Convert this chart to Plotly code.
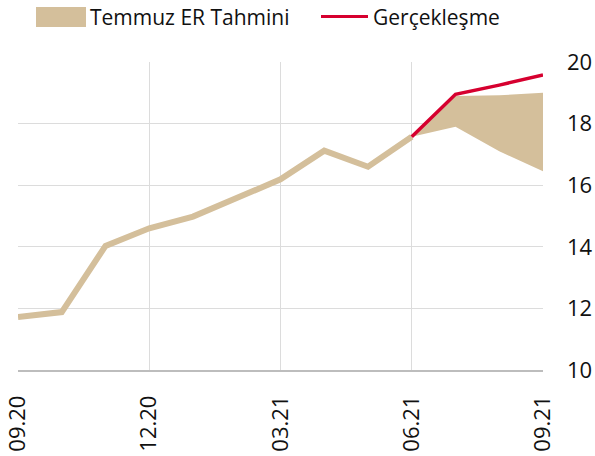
import plotly.graph_objects as go

# Palette
TAN = "#d4bf9b"
RED = "#d6002f"
GRID = "#dcdcdc"

months = ["09.20", "10.20", "11.20", "12.20", "01.21", "02.21", "03.21",
          "04.21", "05.21", "06.21", "07.21", "08.21", "09.21"]
tick_months = ["09.20", "12.20", "03.21", "06.21", "09.21"]

# history (Temmuz ER Tahmini, realised part)
hist_months = months[:10]
hist_vals = [11.72, 11.88, 14.03, 14.6, 14.98, 15.57, 16.19, 17.12, 16.6, 17.57]

# forecast fan
fan_months = months[9:]
fan_upper = [17.57, 18.9, 18.92, 19.0]
fan_lower = [17.57, 17.9, 17.1, 16.45]

# realised (Gerçekleşme)
real_months = months[9:]
real_vals = [17.57, 18.95, 19.25, 19.58]

fig = go.Figure()

fig.add_trace(go.Scatter(
    x=fan_months, y=fan_upper, mode="lines",
    line=dict(width=0, color=TAN), showlegend=False, hoverinfo="skip",
))
fig.add_trace(go.Scatter(
    x=fan_months, y=fan_lower, mode="lines",
    line=dict(width=0, color=TAN), fill="tonexty", fillcolor=TAN,
    showlegend=False, name="Temmuz ER Tahmini",
))
fig.add_trace(go.Scatter(
    x=hist_months, y=hist_vals, mode="lines",
    line=dict(width=6, color=TAN), showlegend=False, name="Temmuz ER Tahmini",
))
fig.add_trace(go.Scatter(
    x=real_months, y=real_vals, mode="lines",
    line=dict(width=3.5, color=RED), showlegend=False, name="Gerçekleşme",
))

# manual legend (paper coords: plot spans x 18..543, y 62..370 px)
def px_x(p):
    return (p - 18) / 525

def px_y(p):
    return (370 - p) / 308

fig.add_shape(type="rect", xref="paper", yref="paper",
              x0=px_x(36), x1=px_x(86), y0=px_y(27), y1=px_y(7),
              fillcolor=TAN, line=dict(width=0))
fig.add_shape(type="line", xref="paper", yref="paper",
              x0=px_x(321), x1=px_x(368), y0=px_y(16.5), y1=px_y(16.5),
              line=dict(color=RED, width=3))
fig.add_annotation(text="Temmuz ER Tahmini", xref="paper", yref="paper",
                   x=px_x(88), y=px_y(16.5), xanchor="left", yanchor="middle",
                   showarrow=False, font=dict(size=21, color="#111111"))
fig.add_annotation(text="Gerçekleşme", xref="paper", yref="paper",
                   x=px_x(371), y=px_y(16.5), xanchor="left", yanchor="middle",
                   showarrow=False, font=dict(size=21, color="#111111"))

fig.update_layout(
    width=595, height=456,
    paper_bgcolor="white", plot_bgcolor="white",
    font=dict(family="Open Sans", size=21, color="#111111"),
    margin=dict(l=18, r=52, t=62, b=86, autoexpand=False),
    showlegend=False,
)
fig.update_xaxes(
    type="category", categoryorder="array", categoryarray=months,
    range=[0, 12], tickmode="array", tickvals=tick_months, ticktext=tick_months,
    tickangle=-90, showgrid=True, gridcolor=GRID, gridwidth=1,
    showline=True, linecolor="#bdbdbd", linewidth=1.5, ticks="",
    zeroline=False, automargin=False, ticklabelstandoff=15,
    tickfont=dict(size=22),
)
fig.update_yaxes(
    side="right", range=[10, 20], dtick=2, tick0=10,
    showgrid=True, gridcolor=GRID, gridwidth=1, zeroline=False,
    ticks="", ticklabelstandoff=23, automargin=False,
    tickfont=dict(size=22),
)

fig.write_html("out.html", config={"displayModeBar": False},
               post_script="document.body.style.margin='0';")
